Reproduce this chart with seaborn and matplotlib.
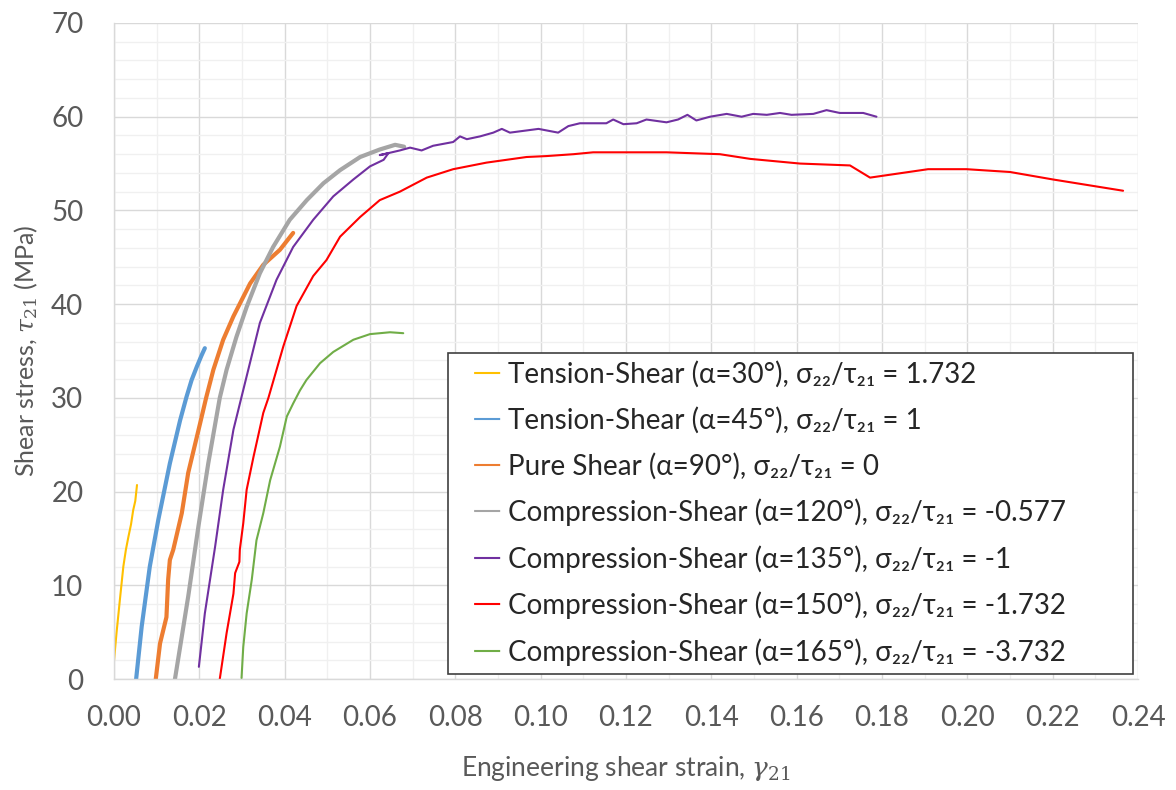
import numpy as np
import pandas as pd
import matplotlib
matplotlib.use("Agg")
import matplotlib.pyplot as plt
from matplotlib.ticker import MultipleLocator, FormatStrFormatter
import seaborn as sns

# ── Data ──────────────────────────────────────────────────────────────────────
t30_strain = [0.0000, 0.0006, 0.0014, 0.0022, 0.0028, 0.0034, 0.0040, 0.0045, 0.0050, 0.0054]
t30_stress = [1.9, 4.9, 8.5, 12.0, 13.8, 15.2, 16.5, 18.0, 19.0, 20.7]

t45_strain = [0.0052, 0.0065, 0.0084, 0.0104, 0.0131, 0.0155, 0.0170, 0.0182, 0.0194, 0.0205, 0.0213]
t45_stress = [0.0, 5.6, 12.0, 17.0, 23.0, 27.6, 30.1, 31.9, 33.3, 34.5, 35.3]

ps_strain = [0.0098, 0.0108, 0.0123, 0.0127, 0.0131, 0.0139, 0.0159, 0.0174, 0.0202,
             0.0216, 0.0233, 0.0256, 0.0280, 0.0319, 0.0350, 0.0389, 0.0420]
ps_stress = [0.0, 3.8, 6.6, 10.6, 12.7, 13.8, 17.7, 22.0, 27.3,
             30.0, 33.0, 36.2, 38.7, 42.2, 44.2, 45.8, 47.6]

c120_strain = [0.0143, 0.0155, 0.0174, 0.0198, 0.0221, 0.0248, 0.0264, 0.0287, 0.0311,
               0.0342, 0.0373, 0.0412, 0.0452, 0.0491, 0.0530, 0.0577, 0.0623, 0.0659, 0.0680]
c120_stress = [0.0, 3.4, 8.8, 16.3, 23.0, 30.0, 33.0, 36.5, 39.7,
               43.3, 46.1, 49.0, 51.1, 52.9, 54.3, 55.7, 56.5, 57.0, 56.8]

c135_strain = [0.0199, 0.0213, 0.0237, 0.0256, 0.0280, 0.0299, 0.0342, 0.0381, 0.0420,
               0.0467, 0.0514, 0.0561, 0.0600, 0.0632, 0.0643, 0.0623, 0.0670, 0.0694,
               0.0721, 0.0748, 0.0795, 0.0811, 0.0827, 0.0858, 0.0889, 0.0909, 0.0928,
               0.0995, 0.1041, 0.1065, 0.1092, 0.1154, 0.1170, 0.1194, 0.1225, 0.1248,
               0.1295, 0.1322, 0.1344, 0.1365, 0.1397, 0.1436, 0.1471, 0.1498, 0.1530,
               0.1561, 0.1588, 0.1639, 0.1670, 0.1701, 0.1756, 0.1787]
c135_stress = [1.3, 7.0, 14.1, 20.2, 26.6, 30.1, 38.0, 42.6, 46.1,
               49.0, 51.5, 53.3, 54.7, 55.4, 56.1, 55.9, 56.4, 56.7,
               56.4, 56.9, 57.3, 57.9, 57.6, 57.9, 58.3, 58.7, 58.3,
               58.7, 58.3, 59.0, 59.3, 59.3, 59.7, 59.2, 59.3, 59.7,
               59.4, 59.7, 60.2, 59.6, 60.0, 60.3, 60.0, 60.3, 60.2,
               60.4, 60.2, 60.3, 60.7, 60.4, 60.4, 60.0]

c150_strain = [0.0248, 0.0264, 0.0280, 0.0284, 0.0294, 0.0295, 0.0303, 0.0311, 0.0327,
               0.0350, 0.0362, 0.0397, 0.0428, 0.0467, 0.0498, 0.0530, 0.0577, 0.0623,
               0.0670, 0.0733, 0.0795, 0.0873, 0.0967, 0.1014, 0.1077, 0.1123, 0.1295,
               0.1420, 0.1491, 0.1608, 0.1725, 0.1772, 0.1908, 0.1998, 0.2100, 0.2201, 0.2365]
c150_stress = [0.0, 4.9, 9.1, 11.3, 12.5, 13.8, 16.6, 20.2, 23.7,
               28.4, 30.0, 35.5, 39.8, 43.0, 44.7, 47.2, 49.3, 51.1,
               52.0, 53.5, 54.4, 55.1, 55.7, 55.8, 56.0, 56.2, 56.2,
               56.0, 55.5, 55.0, 54.8, 53.5, 54.4, 54.4, 54.1, 53.3, 52.1]

c165_strain = [0.0299, 0.0303, 0.0311, 0.0323, 0.0334, 0.0350, 0.0366, 0.0389, 0.0405,
               0.0420, 0.0436, 0.0451, 0.0483, 0.0514, 0.0561, 0.0600, 0.0647, 0.0678]
c165_stress = [0.1, 3.4, 7.0, 10.6, 14.8, 17.7, 21.2, 24.8, 28.0,
               29.4, 30.8, 31.9, 33.7, 34.9, 36.2, 36.8, 37.0, 36.9]

labels = [
    "Tension-Shear (α=30°), σ₂₂/τ₂₁ = 1.732",
    "Tension-Shear (α=45°), σ₂₂/τ₂₁ = 1",
    "Pure Shear (α=90°), σ₂₂/τ₂₁ = 0",
    "Compression-Shear (α=120°), σ₂₂/τ₂₁ = -0.577",
    "Compression-Shear (α=135°), σ₂₂/τ₂₁ = -1",
    "Compression-Shear (α=150°), σ₂₂/τ₂₁ = -1.732",
    "Compression-Shear (α=165°), σ₂₂/τ₂₁ = -3.732",
]
series = [
    (t30_strain, t30_stress), (t45_strain, t45_stress), (ps_strain, ps_stress),
    (c120_strain, c120_stress), (c135_strain, c135_stress),
    (c150_strain, c150_stress), (c165_strain, c165_stress),
]
colors = ["#FFC000", "#5B9BD5", "#ED7D31", "#A5A5A5", "#7030A0", "#FF0000", "#70AD47"]
widths = [1.5, 3.0, 3.0, 3.0, 1.5, 1.5, 1.5]

# ── Style ─────────────────────────────────────────────────────────────────────
sns.set_theme(style="white")
plt.rcParams["font.family"] = ["Lato", "DejaVu Sans"]
plt.rcParams["mathtext.fontset"] = "dejavuserif"
txt = "#595959"

fig = plt.figure(figsize=(11.76, 7.9), dpi=100)
ax = fig.add_axes([0.0969, 0.1405, 0.8708, 0.8304])

for (xs, ys), lab, col, lw in zip(series, labels, colors, widths):
    df = pd.DataFrame({"strain": xs, "stress": ys})
    sns.lineplot(data=df, x="strain", y="stress", sort=False, estimator=None,
                 color=col, linewidth=lw, label=lab, ax=ax)

ax.set_xlim(0, 0.24)
ax.set_ylim(0, 70)
ax.xaxis.set_major_locator(MultipleLocator(0.02))
ax.xaxis.set_minor_locator(MultipleLocator(0.01))
ax.yaxis.set_major_locator(MultipleLocator(10))
ax.yaxis.set_minor_locator(MultipleLocator(2))
ax.xaxis.set_major_formatter(FormatStrFormatter("%.2f"))

ax.grid(which="major", color="#D9D9D9", linewidth=1.0)
ax.grid(which="minor", color="#F0F0F0", linewidth=1.0)
ax.set_axisbelow(True)
for s in ["top", "right"]:
    ax.spines[s].set_visible(False)
for s in ["left", "bottom"]:
    ax.spines[s].set_color("#D9D9D9")
    ax.spines[s].set_linewidth(1.0)

ax.tick_params(which="major", direction="out", length=8, width=1, color="#D9D9D9",
               labelsize=20, labelcolor=txt)
ax.tick_params(axis="x", pad=11)
ax.tick_params(axis="y", pad=14)
ax.tick_params(which="minor", length=0)

ax.set_xlabel(r"Engineering shear strain, $\gamma_{\mathit{21}}$", fontsize=19, color=txt, labelpad=16)
ax.set_ylabel(r"Shear stress, $\tau_{\mathit{21}}$ (MPa)", fontsize=18, color=txt, labelpad=8)

leg = ax.legend(loc="lower left", bbox_to_anchor=(0.326, 0.0076, 0.669, 0.3),
                mode="expand", borderaxespad=0, fontsize=20,
                frameon=True, fancybox=False, framealpha=1, edgecolor="#404040",
                handlelength=1.6, handletextpad=0.25, borderpad=0.3, labelspacing=0.68)
leg.get_frame().set_linewidth(1.2)
# short legend line with blank lead-in, as in the Excel legend
for h in leg.get_lines():
    h.set_linewidth(1.5)
    h.set_linestyle((12.5, (12.5, 8.7)))

fig.savefig("out.png", dpi=100)
